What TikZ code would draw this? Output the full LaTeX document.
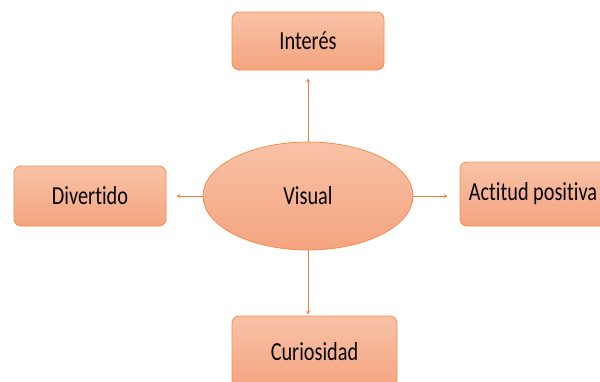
\documentclass[tikz,border=0pt]{standalone}
\usepackage{fontspec}
\setmainfont[Ligatures=NoCommon,FakeStretch=0.78]{Carlito}
\usetikzlibrary{shapes.geometric}

\definecolor{salmontop}{HTML}{F8C2A7}
\definecolor{salmonbot}{HTML}{F4A47F}
\definecolor{salmonline}{HTML}{F28E4E}
\definecolor{arrowline}{HTML}{EE8040}

\begin{document}
\begin{tikzpicture}[
x=1pt,y=-1pt,
>=stealth,
concept/.style={
	draw=salmonline,
	line width=0.8pt,
	top color=salmontop,
	bottom color=salmonbot,
	inner sep=0pt,
	font=\fontsize{26}{30}\selectfont
},
box/.style={
	concept,
	rectangle,
	rounded corners=7pt
},
link/.style={
	->,
	draw=arrowline,
	line width=0.8pt
}
]
\useasboundingbox (0,0) rectangle (600,381);

\node[concept,ellipse,minimum width=210pt,minimum height=108pt] (visual) at (308,196) {Visual};

\node[box,minimum width=152pt,minimum height=58pt] (interes) at (308,41) {Interés};
\node[box,minimum width=152pt,minimum height=60pt] (divertido) at (90,196) {Divertido};
\node[box,minimum width=146pt,minimum height=64pt] (actitud) at (533,194) {Actitud positiva};
\node[box,minimum width=165pt,minimum height=72pt] (curiosidad) at (314.5,352) {Curiosidad};

\draw[link,shorten >=8pt] (visual.north) -- (interes.south);
\draw[link,shorten >=10pt] (visual.west) -- (visual.west -| divertido.east);
\draw[link,shorten >=12pt] (visual.east) -- (visual.east -| actitud.west);
\draw[link,shorten >=1pt] (visual.south) -- (visual.south |- curiosidad.north);

\end{tikzpicture}
\end{document}
